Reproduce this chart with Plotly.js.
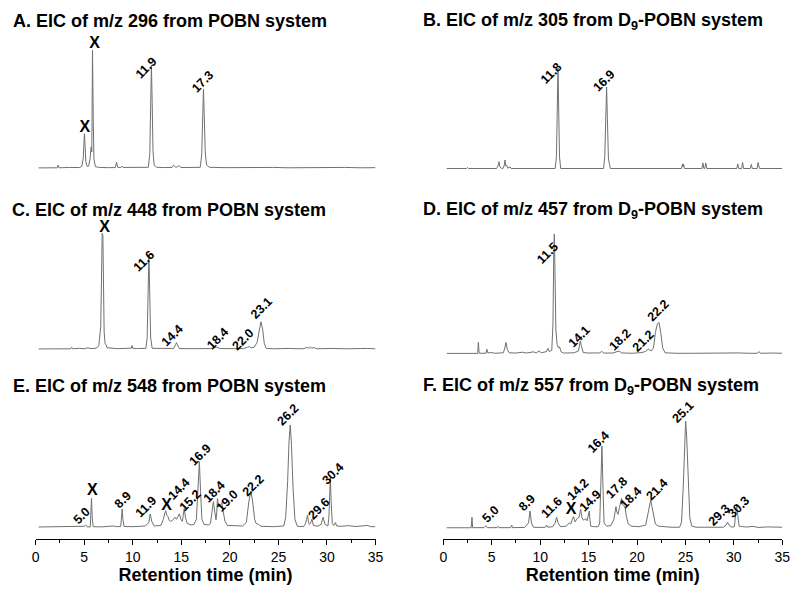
<!DOCTYPE html>
<html>
<head>
<meta charset="utf-8">
<script src="https://cdn.plot.ly/plotly-3.0.1.min.js"></script>
<style>html,body{margin:0;padding:0;background:#fff;}#chart{width:800px;height:594px;}</style>
</head>
<body>
<div id="chart"></div>
<script>
// ---------- DATA (retention time in min, relative intensity: tallest peak of each panel = 100) ----------
const panelTitles = [
  'A. EIC of m/z 296 from POBN system',
  'B. EIC of m/z 305 from D<sub>9</sub>-POBN system',
  'C. EIC of m/z 448 from POBN system',
  'D. EIC of m/z 457 from D<sub>9</sub>-POBN system',
  'E. EIC of m/z 548 from POBN system',
  'F. EIC of m/z 557 from D<sub>9</sub>-POBN system'
];
const xTickVals = [0, 5, 10, 15, 20, 25, 30, 35];
const xAxisTitle = 'Retention time (min)';

const chromA = [[0.3,0.5],[1.5,0.8],[2.2,0.6],[2.3,2.8],[2.4,0.6],[3.5,0.9],[4.5,0.8],[4.75,1.8],[4.9,9],[4.97,22],[5.02,29.4],[5.08,20],[5.16,6],[5.3,1.8],[5.45,2],[5.6,8],[5.71,18.2],[5.78,14],[5.85,100],[5.93,40],[6.0,8],[6.15,1.5],[6.6,0.9],[7.5,0.7],[8.2,0.8],[8.33,5.3],[8.45,0.9],[8.8,1],[8.9,2],[9.0,0.9],[10.0,0.7],[11.0,0.8],[11.6,1],[11.75,12],[11.85,60],[11.92,87.4],[12.0,55],[12.08,15],[12.2,3],[12.45,1],[13.3,0.8],[14.05,0.9],[14.2,2.8],[14.4,1.2],[14.6,1.3],[14.75,2.6],[14.95,0.8],[16.0,0.7],[16.95,1],[17.1,12],[17.2,45],[17.28,66.8],[17.36,45],[17.46,14],[17.6,3],[17.9,1],[19.5,0.7],[21,0.9],[22.8,0.6],[24.5,0.9],[26,0.6],[28,0.8],[30,0.6],[31.8,0.9],[33.5,0.6],[35,0.7]];
const chromB = [[0.35,0.5],[2.4,0.5],[2.5,1.5],[2.6,0.5],[5.5,0.5],[5.65,3],[5.75,7.2],[5.85,2],[6.0,0.6],[6.2,0.8],[6.3,4],[6.37,8.9],[6.45,3],[6.55,3.5],[6.65,0.8],[6.9,2],[7.0,0.5],[11.55,0.5],[11.68,12],[11.77,60],[11.84,100],[11.91,60],[12.0,12],[12.12,0.5],[16.55,0.5],[16.67,12],[16.78,55],[16.86,81.2],[16.94,50],[17.05,10],[17.25,0.5],[24.6,0.5],[24.7,5],[24.75,2],[24.8,5],[24.9,0.5],[26.7,0.5],[26.8,6],[26.9,0.5],[27.0,0.5],[27.1,6],[27.2,0.5],[30.3,0.5],[30.4,5],[30.5,0.5],[30.8,0.5],[30.9,6.5],[31.0,0.5],[31.7,0.5],[31.8,4.5],[31.9,0.5],[32.4,0.5],[32.5,6.5],[32.65,0.5],[35,0.5]];
const chromC = [[0.3,0.5],[2.5,0.8],[3.6,0.6],[3.7,2],[3.8,0.6],[4.5,1],[5.0,0.6],[5.4,1.5],[5.6,0.8],[6.2,1],[6.5,3],[6.7,20],[6.8,85],[6.85,100],[6.92,98],[6.98,60],[7.05,15],[7.15,5],[7.22,4.5],[7.35,1.5],[7.8,1],[8.5,0.7],[9.4,1],[9.85,1.2],[9.92,3.4],[10.0,1],[10.5,0.8],[11.35,1],[11.48,10],[11.58,50],[11.66,81.3],[11.74,50],[11.84,10],[12.0,1],[13.0,0.8],[14.2,0.9],[14.4,4],[14.5,5.9],[14.6,4],[14.8,0.8],[16.0,0.7],[17.2,1],[18.0,0.8],[18.65,2],[19.0,0.8],[20.5,0.7],[21.4,0.8],[21.8,1.8],[22.0,2.5],[22.2,1.5],[22.5,2],[22.8,6],[23.0,17],[23.2,23.9],[23.38,17],[23.55,5],[23.75,1],[24.5,0.6],[26,0.9],[27.5,0.6],[28.0,1.8],[28.15,1],[28.3,2.2],[28.45,1],[28.6,1.7],[29,0.6],[30.5,0.9],[32,0.6],[34.2,0.9],[35,0.6]];
const chromD = [[0.35,0.5],[3.55,0.5],[3.62,9.7],[3.7,0.6],[4.4,0.6],[4.5,4],[4.6,0.8],[4.9,1.3],[5.3,0.6],[6.2,1],[6.35,5],[6.47,9.7],[6.6,4],[6.8,1],[7.5,0.8],[8.2,1.5],[8.6,0.8],[9.3,1.8],[9.6,0.9],[9.9,2.5],[10.1,1],[10.65,2],[10.8,4.7],[10.95,2],[11.2,3],[11.32,25],[11.4,80],[11.46,100],[11.53,70],[11.62,20],[11.75,8],[11.9,5],[12.0,6],[12.15,2],[12.4,0.8],[13.5,1],[13.95,2.5],[14.06,9],[14.15,11],[14.25,7],[14.45,1.2],[15.0,0.8],[16.15,0.9],[16.35,2.2],[16.55,0.8],[17.5,0.8],[18.14,2.5],[18.4,0.9],[19.5,0.6],[20.5,1.2],[20.9,2.2],[21.17,4.2],[21.45,2.5],[21.7,5],[21.9,18],[22.1,25],[22.27,26.4],[22.45,18],[22.65,5],[22.9,1],[24,0.6],[26,0.6],[27.5,0.8],[29,0.6],[30.4,0.9],[31.5,0.6],[32.45,0.6],[32.6,2],[32.75,0.6],[34,0.8],[35,0.6]];
const chromE = [[0.3,0.5],[4.9,0.5],[5.0,1.2],[5.16,2.4],[5.3,0.6],[5.62,0.6],[5.7,15],[5.75,28.5],[5.82,10],[5.92,0.8],[6.8,0.6],[7.5,1.2],[8.0,1.5],[8.3,0.8],[8.75,1],[8.84,10],[8.91,18],[8.98,8],[9.1,1],[10.0,0.8],[10.7,1.5],[11.3,1.5],[11.65,5],[11.8,13.2],[11.95,6],[12.2,1.5],[12.9,2],[13.15,8],[13.3,14],[13.39,16.4],[13.5,12],[13.6,11],[13.75,7],[13.9,6],[14.1,7],[14.35,10],[14.5,8],[14.65,11],[14.8,13.3],[14.95,8],[15.1,6],[15.2,12],[15.3,18.7],[15.42,10],[15.6,4],[16.0,2.5],[16.3,3],[16.55,8],[16.72,40],[16.86,64.2],[16.98,35],[17.12,8],[17.35,3],[17.8,2.5],[18.0,4],[18.15,15],[18.3,25.2],[18.45,15],[18.57,7.5],[18.65,15],[18.72,28.3],[18.82,22],[18.92,20],[19.05,22],[19.17,24.1],[19.3,16],[19.5,6],[19.75,2],[20.5,1.5],[21.3,1.5],[21.7,5],[21.95,25],[22.17,35.6],[22.35,25],[22.55,8],[22.7,4],[22.95,3],[23.2,1.2],[24.5,0.8],[25.3,1],[25.55,1.5],[25.75,10],[25.95,45],[26.1,85],[26.22,100],[26.35,80],[26.5,40],[26.7,8],[26.95,1.2],[27.6,1],[27.8,4],[27.9,8],[28.0,12.2],[28.1,5],[28.2,3],[28.3,4],[28.46,8],[28.6,2],[29.0,1.2],[29.4,3],[29.6,10],[29.8,3],[30.1,1.5],[30.2,10],[30.3,45],[30.35,49],[30.43,25],[30.55,4],[30.7,2],[30.87,4.8],[31.0,1.5],[31.5,1.2],[32.2,1.8],[33,1],[34.2,2],[34.5,0.8],[35,0.8]];
const chromF = [[0.35,0.5],[2.88,0.5],[2.96,10.3],[3.03,0.6],[4.2,0.6],[4.4,2.4],[4.55,0.6],[5.55,0.6],[5.65,1.8],[5.75,0.6],[6.95,0.6],[7.06,3],[7.15,0.6],[7.9,0.8],[8.4,0.8],[8.8,5],[8.95,16.1],[9.1,5],[9.3,1],[10.0,0.8],[10.55,1],[10.67,3],[10.8,1],[11.3,1.5],[11.55,5],[11.7,10.5],[11.85,5],[12.1,1.5],[12.7,2],[13.0,5],[13.15,4],[13.3,8],[13.43,10.8],[13.6,6],[13.84,9.3],[14.0,10],[14.18,17.7],[14.32,10],[14.45,7.7],[14.6,8],[14.7,9],[14.85,7],[14.97,14],[15.07,16.1],[15.14,8],[15.22,2],[15.5,1.5],[16.0,1.5],[16.15,5],[16.27,40],[16.38,76.7],[16.48,40],[16.6,5],[16.85,2],[17.3,2.5],[17.6,8],[17.75,18],[17.83,20.1],[17.92,15],[18.05,13],[18.2,20],[18.4,28],[18.52,22],[18.6,21],[18.76,20.1],[18.9,11],[19.1,4],[19.4,2],[20.2,1.5],[20.9,3],[21.1,12],[21.3,24],[21.41,26.4],[21.55,20],[21.7,12],[21.9,4],[22.2,2],[22.8,1.5],[23.5,1],[24.4,1],[24.6,6],[24.78,40],[24.92,85],[25.02,100],[25.13,85],[25.28,45],[25.45,10],[25.65,2],[26.1,1],[27,1],[28,0.8],[28.9,1],[29.2,3],[29.36,5.6],[29.5,3],[29.8,1],[30.05,1.5],[30.15,10],[30.29,22.4],[30.4,12],[30.55,2],[30.9,1.5],[31.3,1.2],[32,1.8],[32.5,0.8],[33.5,1.3],[34.3,0.8],[35,1]];

// peak labels: text, retention-time position, intensity position
const labelTextA = ['11.9','17.3'];
const labelTimeA = [11.36, 17.19];
const labelLevelA = [85.2, 72.6];
const labelTextB = ['11.8','16.9'];
const labelTimeB = [11.17, 16.59];
const labelLevelB = [95.5, 87.1];
const labelTextC = ['11.6','14.4','18.4','22.0','23.1'];
const labelTimeC = [11.17, 14.01, 18.74, 21.32, 23.25];
const labelLevelC = [76.3, 12.0, 8.8, 8.2, 36.1];
const labelTextD = ['11.5','14.1','18.2','21.2','22.2'];
const labelTimeD = [10.81, 13.99, 18.24, 20.65, 22.13];
const labelLevelD = [83.9, 14.4, 11.7, 11.0, 36.0];
const labelTextE = ['5.0','8.9','11.9','14.4','15.2','16.9','18.4','19.0','22.2','26.2','29.6','30.4'];
const labelTimeE = [4.72, 8.96, 11.34, 14.78, 15.87, 16.93, 18.36, 19.72, 22.35, 25.97, 29.15, 30.61];
const labelLevelE = [11.4, 27.1, 20.3, 37.4, 26.0, 70.7, 34.9, 26.0, 40.7, 109.8, 17.9, 52.0];
const labelTextF = ['5.0','8.9','11.6','14.2','14.9','16.4','17.8','18.4','21.4','25.1','29.3','30.3'];
const labelTimeF = [4.92, 8.61, 11.27, 13.86, 15.15, 16.0, 17.9, 19.36, 22.03, 24.78, 28.48, 30.55];
const labelLevelF = [13.1, 24.0, 19.4, 35.7, 25.6, 80.7, 37.3, 28.0, 35.7, 108.1, 12.4, 19.4];

// "X" marks (excluded peaks)
const xMarkTimeA = [6.06, 5.06];
const xMarkLevelA = [105.3, 34.6];
const xMarkTimeC = [7.09];
const xMarkLevelC = [104.3];
const xMarkTimeE = [5.83, 13.49];
const xMarkLevelE = [35.3, 21.2];
const xMarkTimeF = [13.2];
const xMarkLevelF = [17.1];

// ---------- LAYOUT (pixel geometry of the figure) ----------
const W = 800, H = 594;
const FONT = 'Liberation Sans, Arial, Helvetica, sans-serif';
const colsPx = [[35.7, 375.5], [443.3, 782.3]];
// baseline px, px of value 100, domain top px, domain bottom px
const geom = [
  {base:168.5, full:50,    top:28,  bot:176, col:0, titleX:11,  titleY:21},
  {base:169,   full:68,    top:40,  bot:176, col:1, titleX:421, titleY:22},
  {base:349.5, full:233.3, top:205, bot:356, col:0, titleX:10,  titleY:210},
  {base:354,   full:234,   top:205, bot:360, col:1, titleX:421, titleY:210},
  {base:527.5, full:425,   top:395, bot:539, col:0, titleX:11,  titleY:386},
  {base:528.3, full:421,   top:395, bot:539, col:1, titleX:421, titleY:386}
];
const chroms = [chromA, chromB, chromC, chromD, chromE, chromF];
const labels = [
  [labelTextA, labelTimeA, labelLevelA],
  [labelTextB, labelTimeB, labelLevelB],
  [labelTextC, labelTimeC, labelLevelC],
  [labelTextD, labelTimeD, labelLevelD],
  [labelTextE, labelTimeE, labelLevelE],
  [labelTextF, labelTimeF, labelLevelF]
];
const xMarks = [[xMarkTimeA, xMarkLevelA], [[], []], [xMarkTimeC, xMarkLevelC], [[], []], [xMarkTimeE, xMarkLevelE], [xMarkTimeF, xMarkLevelF]];

const traces = [];
const layout = {
  width: W, height: H,
  margin: {l:0, r:0, t:0, b:0},
  paper_bgcolor: '#fff', plot_bgcolor: 'rgba(0,0,0,0)',
  showlegend: false,
  font: {family: FONT, color: '#000'},
  annotations: []
};

geom.forEach((g, k) => {
  const n = k + 1;
  const xa = n === 1 ? 'x' : 'x' + n;
  const ya = n === 1 ? 'y' : 'y' + n;
  const xk = n === 1 ? 'xaxis' : 'xaxis' + n;
  const yk = n === 1 ? 'yaxis' : 'yaxis' + n;
  const ppu = (g.base - g.full) / 100;
  const r0 = (g.base - g.bot) / ppu;
  const r1 = (g.base - g.top) / ppu;
  const bottomRow = k >= 4;

  traces.push({
    type: 'scatter', mode: 'lines',
    x: chroms[k].map(p => p[0]), y: chroms[k].map(p => p[1]),
    xaxis: xa, yaxis: ya,
    line: {color: '#707070', width: 1},
    hoverinfo: 'skip'
  });

  // X marks drawn as text markers of the same subplot
  const [mt, ml] = xMarks[k];
  if (mt.length) {
    traces.push({
      type: 'scatter', mode: 'text',
      x: mt, y: ml, text: mt.map(() => 'X'),
      textposition: 'middle center',
      textfont: {family: FONT, size: 16, color: '#000', weight: 'bold'},
      xaxis: xa, yaxis: ya, hoverinfo: 'skip', cliponaxis: false
    });
  }

  const xaxis = {
    domain: [colsPx[g.col][0] / W, colsPx[g.col][1] / W],
    anchor: ya, range: [0, 35], fixedrange: true,
    showgrid: false, zeroline: false
  };
  if (bottomRow) {
    Object.assign(xaxis, {
      showline: true, linecolor: '#000', linewidth: 1,
      ticks: 'outside', ticklen: 5, tickwidth: 1, tickcolor: '#000',
      tickmode: 'array', tickvals: xTickVals, ticktext: xTickVals.map(String),
      minor: {tickmode: 'linear', tick0: 0, dtick: 2.5, ticks: 'outside', ticklen: 3, tickwidth: 1, tickcolor: '#000', showgrid: false},
      tickfont: {family: FONT, size: 14, color: '#000'},
      title: {text: xAxisTitle, font: {family: FONT, size: 18, color: '#000', weight: 'bold'}, standoff: 2}
    });
  } else {
    Object.assign(xaxis, {visible: false});
  }
  layout[xk] = xaxis;
  layout[yk] = {
    domain: [1 - g.bot / H, 1 - g.top / H],
    anchor: xa, range: [r0, r1], visible: false, fixedrange: true
  };

  // panel title
  layout.annotations.push({
    xref: 'paper', yref: 'paper', x: g.titleX / W, y: 1 - g.titleY / H,
    xanchor: 'left', yanchor: 'middle', showarrow: false,
    text: panelTitles[k],
    font: {family: FONT, size: 18, color: '#000', weight: 'bold'}
  });

  // peak labels
  const [txt, tt, lv] = labels[k];
  txt.forEach((s, j) => {
    layout.annotations.push({
      xref: xa, yref: ya, x: tt[j], y: lv[j],
      xanchor: 'center', yanchor: 'middle', showarrow: false,
      text: s, textangle: -45,
      font: {family: FONT, size: 12.5, color: '#000', weight: 'bold'}
    });
  });
});

Plotly.newPlot('chart', traces, layout, {staticPlot: true, displayModeBar: false});
</script>
</body>
</html>
